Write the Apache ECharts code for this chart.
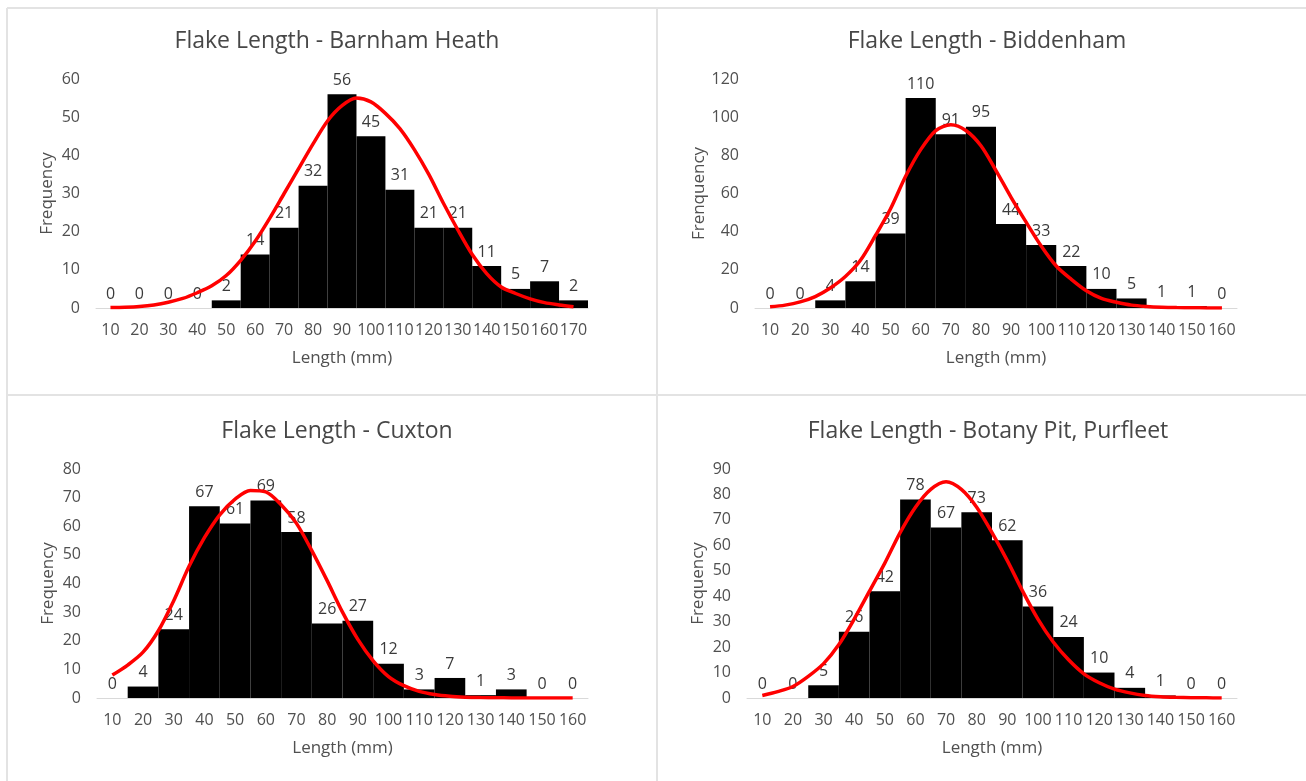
<!DOCTYPE html>
<html>
<head>
<meta charset="utf-8">
<script src="https://cdn.jsdelivr.net/npm/echarts@6/dist/echarts.min.js"></script>
<style>
html,body{margin:0;padding:0;background:#fff;}
#chart{width:1306px;height:781px;}
</style>
</head>
<body>
<div id="chart"></div>
<script>
// ---- data ----
const titles = ['Flake Length - Barnham Heath', 'Flake Length - Biddenham', 'Flake Length - Cuxton', 'Flake Length - Botany Pit, Purfleet'];
const yNames = ['Frequency', 'Frenquency', 'Frequency', 'Frequency'];
const xName = 'Length (mm)';
const catsBarnham = ['10','20','30','40','50','60','70','80','90','100','110','120','130','140','150','160','170'];
const catsOther = ['10','20','30','40','50','60','70','80','90','100','110','120','130','140','150','160'];
const barnhamFreq = [0,0,0,0,2,14,21,32,56,45,31,21,21,11,5,7,2];
const biddenhamFreq = [0,0,4,14,39,110,91,95,44,33,22,10,5,1,1,0];
const cuxtonFreq = [0,4,24,67,61,69,58,26,27,12,3,7,1,3,0,0];
const botanyFreq = [0,0,5,26,42,78,67,73,62,36,24,10,4,1,0,0];
// fitted normal curves, every 5 mm
const curveXBarnham = [10,15,20,25,30,35,40,45,50,55,60,65,70,75,80,85,90,95,100,105,110,115,120,125,130,135,140,145,150,155,160,165,170];
const curveXOther = [10,15,20,25,30,35,40,45,50,55,60,65,70,75,80,85,90,95,100,105,110,115,120,125,130,135,140,145,150,155,160];
const barnhamCurve = [0.1,0.2,0.4,0.8,1.5,2.5,4,5.8,8.5,12.5,17.5,23.5,30,36.5,43,49,53,55,54,51,47,41.5,35,27.5,20.5,14,9,5.5,3.8,2.4,1.4,0.8,0.3];
const biddenhamCurve = [0.6,1.5,3.2,6,10.5,16.5,25,38,52,69,83,93,96,93,85,72,58,45,32.5,22,15,9,5,3,1.5,0.8,0.4,0.2,0.1,0.05,0];
const cuxtonCurve = [8,11.5,16,23.5,34,46,56,64,69.5,72.5,72,67.5,61,51.5,41,30,20.5,13,7.5,4.3,2.3,1.2,0.6,0.3,0.15,0.07,0.03,0,0,0,0];
const botanyCurve = [1,2.5,4.5,8.5,13.5,21,31,42,53,65,75,82,85,82,75,65,54,42,31,22,15,9.5,6,3.5,2,1,0.5,0.25,0.1,0.05,0];
const yMax = [60, 120, 80, 90];
const yStep = [10, 20, 10, 10];

// ---- layout ----
const FONT = 'Open Sans';
const grids = [
  {left: 96, top: 79, width: 492, height: 229},
  {left: 755, top: 79, width: 482, height: 229},
  {left: 97, top: 469, width: 491, height: 229},
  {left: 747, top: 469, width: 490, height: 229}
];
const titlePos = [[332, 25], [982, 25], [332, 415], [983, 415]];
const cats = [catsBarnham, catsOther, catsOther, catsOther];
const freqs = [barnhamFreq, biddenhamFreq, cuxtonFreq, botanyFreq];
const curveXs = [curveXBarnham, curveXOther, curveXOther, curveXOther];
const curves = [barnhamCurve, biddenhamCurve, cuxtonCurve, botanyCurve];

const option = {
  backgroundColor: '#ffffff',
  animation: false,
  textStyle: {fontFamily: FONT},
  title: titles.map((t, i) => ({
    text: t, left: titlePos[i][0], top: titlePos[i][1], textAlign: 'center',
    textStyle: {fontFamily: FONT, fontSize: 23, fontWeight: 'normal', color: '#474747'}
  })),
  grid: grids.map(g => Object.assign({containLabel: false}, g)),
  xAxis: [],
  yAxis: yMax.map((m, i) => ({
    type: 'value', gridIndex: i, min: 0, max: m, interval: yStep[i],
    name: yNames[i], nameLocation: 'middle', nameGap: 40,
    nameTextStyle: {fontFamily: FONT, fontSize: 17, color: '#505050'},
    axisLine: {show: false}, axisTick: {show: false},
    axisLabel: {margin: 16, fontFamily: FONT, fontSize: 16, color: '#505050'},
    splitLine: {show: false}
  })),
  series: [],
  graphic: [
    {type: 'line', shape: {x1: 7, y1: 8, x2: 1306, y2: 8}, style: {stroke: '#e3e3e3', lineWidth: 2}, silent: true},
    {type: 'line', shape: {x1: 7, y1: 8, x2: 7, y2: 781}, style: {stroke: '#e3e3e3', lineWidth: 2}, silent: true},
    {type: 'line', shape: {x1: 657, y1: 8, x2: 657, y2: 781}, style: {stroke: '#e3e3e3', lineWidth: 2}, silent: true},
    {type: 'line', shape: {x1: 7, y1: 395, x2: 1306, y2: 395}, style: {stroke: '#e3e3e3', lineWidth: 2}, silent: true}
  ]
};

// category axes (bars) 0..3
cats.forEach((c, i) => {
  option.xAxis.push({
    type: 'category', gridIndex: i, data: c,
    name: xName, nameLocation: 'middle', nameGap: 42,
    nameTextStyle: {fontFamily: FONT, fontSize: 17, color: '#505050'},
    axisLine: {show: true, lineStyle: {color: '#d9d9d9', width: 1}},
    axisTick: {show: false},
    axisLabel: {interval: 0, margin: 14, fontFamily: FONT, fontSize: 16, color: '#505050'},
    splitLine: {show: false}
  });
});
// hidden value axes (curves) 4..7, spanning the same band range as the categories
cats.forEach((c, i) => {
  const first = Number(c[0]), last = Number(c[c.length - 1]);
  const half = (Number(c[1]) - first) / 2;
  option.xAxis.push({
    type: 'value', gridIndex: i, min: first - half, max: last + half, show: false
  });
});

for (let i = 0; i < 4; i++) {
  option.series.push({
    type: 'bar', xAxisIndex: i, yAxisIndex: i, data: freqs[i],
    barCategoryGap: '0%', itemStyle: {color: '#000000'},
    label: {show: true, position: 'top', distance: 6, fontFamily: FONT, fontSize: 16, color: '#3a3a3a'},
    z: 2
  });
  option.series.push({
    type: 'line', xAxisIndex: 4 + i, yAxisIndex: i,
    data: curveXs[i].map((x, k) => [x, curves[i][k]]),
    smooth: 0.3, showSymbol: false, symbol: 'none',
    lineStyle: {color: '#ff0000', width: 3.5},
    z: 3
  });
}

const chart = echarts.init(document.getElementById('chart'), null, {renderer: 'canvas'});
chart.setOption(option);
</script>
</body>
</html>
